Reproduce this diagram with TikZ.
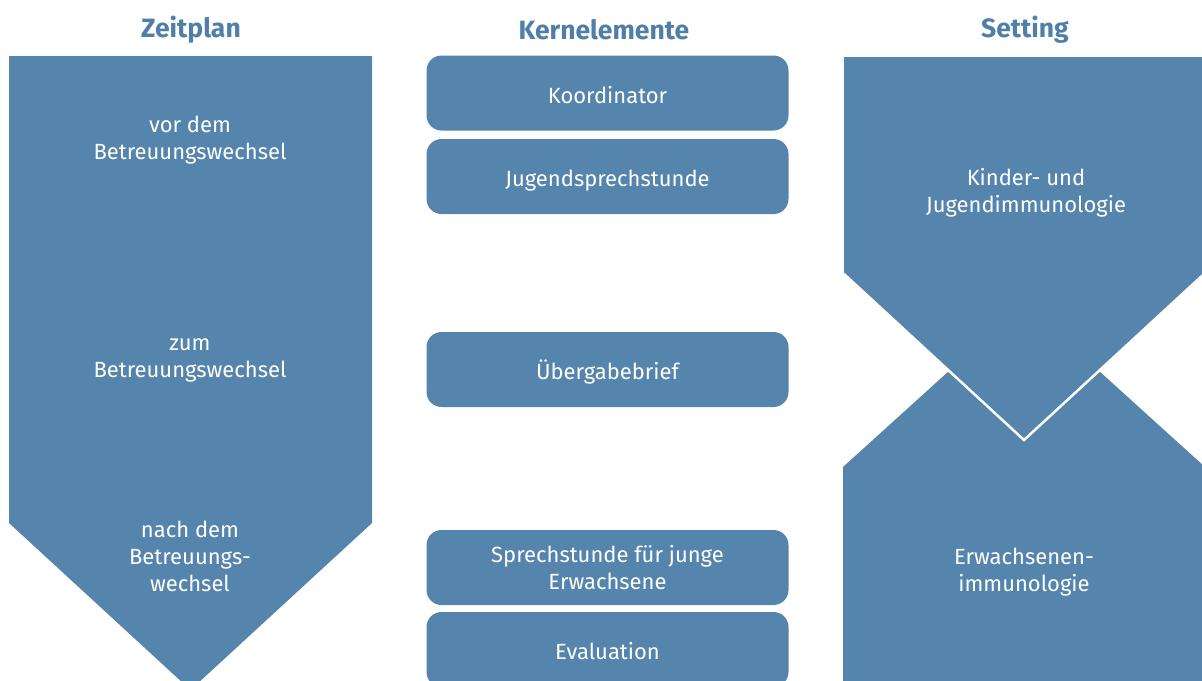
\documentclass[tikz,border=0pt]{standalone}
\usepackage{fontspec}
\setmainfont{Fira Sans}
\begin{document}
\begin{tikzpicture}[x=1pt,y=-1pt,
  blue fill/.style={fill=boxblue,draw=none},
  kbox/.style={blue fill,rounded corners=15pt,minimum width=362pt,minimum height=75pt,inner sep=0pt,
    text=white,font=\fontsize{22}{27}\selectfont,align=center},
  oneline/.style={text height=23pt,text depth=3pt},
  lbl/.style={text=white,font=\fontsize{22}{27}\selectfont,align=center,inner sep=0pt},
  head/.style={text=headblue,font=\fontsize{26.5}{30}\selectfont\bfseries,inner sep=0pt}]
\definecolor{boxblue}{HTML}{5584AC}
\definecolor{headblue}{HTML}{4F7FA8}
\useasboundingbox (0,0) rectangle (1202,680);
\clip (0,0) rectangle (1202,680);
% headings
\node[head] (h1) at (191,30) {Zeitplan};
\node[head] (h2) at (604,30) {Kernelemente};
\node[head] (h3) at (1025,30) {Setting};
% Zeitplan arrow
\path[blue fill] (9,56) -- (372,56) -- (372,523) -- (190.5,690) -- (9,523) -- cycle;
\node[lbl] (z1) at (190,140) {vor dem\\Betreuungswechsel};
\node[lbl] (z2) at (190,360) {zum\\Betreuungswechsel};
\node[lbl] (z3) at (190,556) {nach dem\\Betreuungs-\\wechsel};
% Kernelemente
\node[kbox,oneline] (k1) at (607.5,93) {Koordinator};
\node[kbox,oneline] (k2) at (607.5,176.5) {Jugendsprechstunde};
\node[kbox,oneline] (k3) at (607.5,369.5) {Übergabebrief};
\node[kbox] (k4) at (607.5,567.5) {Sprechstunde für junge\\Erwachsene};
\node[kbox,oneline] (k5) at (607.5,649.5) {Evaluation};
% Setting
\path[blue fill] (843,467) -- (1024,303) -- (1205,467) -- (1205,700) -- (843,700) -- cycle;
\path[blue fill] (844,57) -- (1204,57) -- (1204,274) -- (1024,440) -- (844,274) -- cycle;
\draw[white,line width=2.5pt] (844,274) -- (1024,440) -- (1204,274);
\node[lbl] (s1) at (1026,192.5) {Kinder- und\\Jugendimmunologie};
\node[lbl] (s2) at (1024,572.5) {Erwachsenen-\\immunologie};
\end{tikzpicture}
\end{document}
